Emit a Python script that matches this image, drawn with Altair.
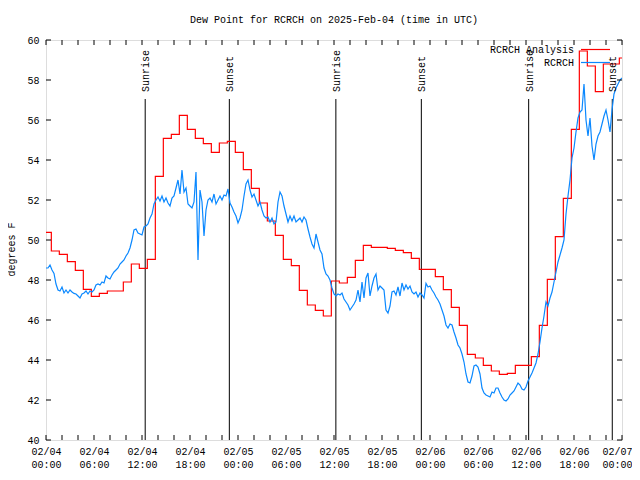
import altair as alt
import numpy as np
import pandas as pd

# ---------------- data ----------------
# RCRCH observations, sampled every 15 minutes from 2025-02-04 00:00 UTC
blue_values = [
    48.6, 48.6, 48.75, 48.5, 48.33, 47.8, 47.5, 47.45,
    47.65, 47.35, 47.5, 47.35, 47.5, 47.4, 47.33, 47.3,
    47.2, 47.1, 47.3, 47.35, 47.45, 47.3, 47.45, 47.4,
    47.5, 47.75, 47.8, 47.75, 47.9, 47.85, 48.2, 48.1,
    48.05, 48.25, 48.4, 48.5, 48.6, 48.8, 48.9, 49.0,
    49.2, 49.35, 49.6, 50.0, 50.5, 50.55, 50.35, 50.3,
    50.25, 50.65, 50.7, 50.8, 51.1, 51.3, 51.8, 52.0,
    52.15, 51.95, 52.2, 51.9, 52.1, 51.85, 51.7, 52.1,
    52.2, 52.6, 53.0, 52.3, 53.5, 52.4, 52.6, 51.8,
    51.7, 51.6, 51.9, 53.4, 49.0, 52.5, 51.9, 50.2,
    51.5, 52.0, 52.1, 51.9, 52.3, 51.8, 52.0, 52.2,
    52.0, 52.25, 52.2, 52.55, 51.85, 51.65, 51.4, 51.2,
    50.85, 51.1, 51.5, 52.2, 52.8, 53.0, 52.5, 52.15,
    52.3, 52.0, 51.7, 51.9, 51.5, 51.2, 51.1, 51.15,
    50.9, 51.1, 50.8, 50.9, 51.9, 52.4, 52.2, 51.7,
    51.3, 50.9, 51.2, 50.95, 51.2, 50.9, 51.0, 51.1,
    50.9, 51.15, 51.0, 50.55, 50.15, 49.8, 49.6, 50.3,
    49.9, 49.5, 49.3, 48.6, 48.3, 48.2, 48.0, 47.6,
    47.3, 47.2, 47.3, 47.25, 47.35, 47.05, 46.9, 46.75,
    46.5, 46.65, 46.8, 47.0, 47.5, 46.9, 47.9, 47.1,
    48.1, 48.35, 47.2, 47.7, 48.1, 48.3, 47.5, 47.7,
    47.6, 47.5, 46.5, 46.35, 46.7, 47.4, 47.45, 47.25,
    47.65, 47.2, 47.85, 47.5, 47.75, 47.55, 47.7, 47.4,
    47.3, 47.4, 47.15, 47.35, 47.25, 47.1, 47.83, 47.65,
    47.7, 47.5, 47.35, 47.15, 47.0, 46.8, 46.5, 46.2,
    45.75, 45.6, 45.8, 45.75, 45.4, 45.1, 44.75, 44.6,
    44.3, 43.9, 43.3, 42.9, 42.85, 43.2, 43.7, 43.75,
    43.65, 43.3, 42.6, 42.35, 42.25, 42.2, 42.15, 42.4,
    42.35, 42.6, 42.6, 42.35, 42.15, 42.0, 41.95, 42.05,
    42.25, 42.35, 42.45, 42.65, 42.85, 42.75, 42.55, 42.5,
    42.65, 42.95, 43.15, 43.35, 43.6, 43.85, 44.3, 44.9,
    45.6, 46.2, 46.9, 46.7, 47.1, 47.4, 47.9, 48.4,
    48.9, 49.25, 49.6, 50.0, 51.3, 52.2, 53.0, 54.1,
    54.6, 55.4, 56.1, 56.4, 56.5, 57.8, 56.0, 55.2,
    56.1, 54.7, 54.0, 54.8, 55.2, 55.4, 55.8, 56.2,
    56.5, 56.0, 55.4, 56.5, 57.3, 57.6, 57.8, 58.0,
    58.1,
]

# RCRCH Analysis (hourly steps; first value from 00:00, then each one from hh:40)
red_values = [
    50.38, 49.45, 49.28, 48.92, 48.48, 47.53, 47.18, 47.33, 47.45, 47.45,
    47.9, 48.8, 48.58, 49.03, 53.18, 55.08, 55.28, 56.23, 55.53, 55.08,
    54.82, 54.38, 54.85, 54.93, 54.38, 53.52, 52.58, 51.85, 50.95, 50.23,
    49.03, 48.72, 47.48, 46.75, 46.48, 46.2, 47.95, 47.85, 48.13, 48.98,
    49.73, 49.63, 49.63, 49.58, 49.48, 49.37, 49.08, 48.53, 48.53, 48.17,
    47.52, 46.63, 45.73, 44.28, 44.1, 43.73, 43.45, 43.28, 43.33, 43.73,
    43.73, 44.17, 45.73, 48.03, 50.17, 52.08, 55.53, 59.45, 58.7, 57.42,
    58.8, 58.8, 59.1,
]

sun_labels = ["Sunrise", "Sunset", "Sunrise", "Sunset", "Sunrise", "Sunset"]
sun_times = ["2025-02-04 12:24", "2025-02-04 22:55", "2025-02-05 12:14",
             "2025-02-05 22:55", "2025-02-06 12:20", "2025-02-06 22:47"]

series_names = ["RCRCH Analysis", "RCRCH"]
series_colors = ["#ff0000", "#0a88ff"]

y_ticks = [40, 42, 44, 46, 48, 50, 52, 54, 56, 58, 60]

# ---------------- build tables ----------------
T0 = pd.Timestamp("2025-02-04 00:00", tz="UTC")
HOUR_MS = 3600 * 1000
t0_ms = int(T0.timestamp() * 1000)


def ms(hours):
    return [int(t0_ms + h * HOUR_MS) for h in hours]


blue_hours = np.arange(len(blue_values)) * 0.25
blue_df = pd.DataFrame({"t": ms(blue_hours), "v": blue_values})

red_hours = [0.0] + [k + 40 / 60 for k in range(len(red_values) - 1)] + [72.0]
red_df = pd.DataFrame({"t": ms(red_hours), "v": red_values + [red_values[-1]]})

sun_df = pd.DataFrame({
    "t": [int(pd.Timestamp(s, tz="UTC").timestamp() * 1000) for s in sun_times],
    "label": sun_labels,
})

major_ticks = ms(range(0, 73, 6))
minor_df = pd.DataFrame({"t": ms(range(0, 73, 2))})
yt_df = pd.DataFrame({"v": y_ticks})

FONT = "Liberation Mono"
W, H = 576, 400
last_test = f"datum.value >= {major_ticks[-1]}"

xscale = alt.Scale(type="utc", domain=[major_ticks[0], major_ticks[-1]])
yscale = alt.Scale(domain=[40, 60], zero=False, nice=False)

xaxis = alt.Axis(
    values=major_ticks,
    labelExpr="[utcFormat(datum.value, '%m/%d'), utcFormat(datum.value, '%H:%M')]",
    tickSize=0, domain=False, grid=False, title=None,
    labelFont=FONT, labelFontSize=10, labelColor="black",
    labelPadding=6, labelLineHeight=13.5, labelAngle=0,
    labelOverlap=False, labelFlush=False,
    labelAlign={"condition": {"test": last_test, "value": "right"}, "value": "center"},
    labelOffset={"condition": {"test": last_test, "value": 10}, "value": 0},
)
yaxis = alt.Axis(
    values=y_ticks, tickSize=0, domain=False, grid=False,
    labelFont=FONT, labelFontSize=10, labelColor="black", labelPadding=7,
    title="degrees F", titleFont=FONT, titleFontSize=10,
    titleFontWeight="normal", titleColor="black", titleAngle=270,
    titleX=-30, titleY=209, titleAlign="center",
)


def X():
    return alt.X("t:T", scale=xscale, axis=xaxis)


def Y():
    return alt.Y("v:Q", scale=yscale, axis=yaxis)


sun_rules = alt.Chart(sun_df).mark_rule(color="black", strokeWidth=1).encode(
    x=X(), y=alt.value(59), y2=alt.value(H))
sun_text = alt.Chart(sun_df).mark_text(
    angle=270, align="left", baseline="middle", font=FONT, fontSize=10,
    color="black", dy=1).encode(x=X(), y=alt.value(52), text="label:N")

red_line = alt.Chart(red_df).mark_line(
    interpolate="step-after", color=series_colors[0], strokeWidth=1.2, clip=True
).encode(x=X(), y=Y())
blue_line = alt.Chart(blue_df).mark_line(
    color=series_colors[1], strokeWidth=1.2, clip=True).encode(x=X(), y=Y())

tick_bottom = alt.Chart(minor_df).mark_rule(color="black").encode(
    x=X(), y=alt.value(H - 5), y2=alt.value(H))
tick_top = alt.Chart(minor_df).mark_rule(color="black").encode(
    x=X(), y=alt.value(0), y2=alt.value(5))
tick_left = alt.Chart(yt_df).mark_rule(color="black").encode(
    y=Y(), x=alt.value(0), x2=alt.value(5))
tick_right = alt.Chart(yt_df).mark_rule(color="black").encode(
    y=Y(), x=alt.value(W - 5), x2=alt.value(W))

one = pd.DataFrame({"a": [0]})
leg_layers = []
for i, (name, col) in enumerate(zip(series_names, series_colors)):
    yy = 10 + 13 * i
    leg_layers.append(alt.Chart(one).mark_text(
        align="right", baseline="middle", font=FONT, fontSize=10, color="black"
    ).encode(x=alt.value(528), y=alt.value(yy), text=alt.value(name)))
    leg_layers.append(alt.Chart(one).mark_rule(color=col, strokeWidth=1.2).encode(
        x=alt.value(535), x2=alt.value(564), y=alt.value(yy - 0.5)))

chart = alt.layer(
    sun_rules, red_line, blue_line, sun_text,
    tick_bottom, tick_top, tick_left, tick_right, *leg_layers,
).properties(
    width=W, height=H,
    title=alt.TitleParams(
        "Dew Point for RCRCH on 2025-Feb-04 (time in UTC)",
        font=FONT, fontSize=10, fontWeight="normal", color="black",
        anchor="middle", offset=10,
    ),
    autosize=alt.AutoSizeParams(type="none"),
    padding={"left": 38, "top": 32, "right": 10, "bottom": 30},
).configure_view(stroke="black", strokeWidth=1).configure(background="white")

chart.save("out.html", embed_options={"renderer": "svg", "actions": False})
